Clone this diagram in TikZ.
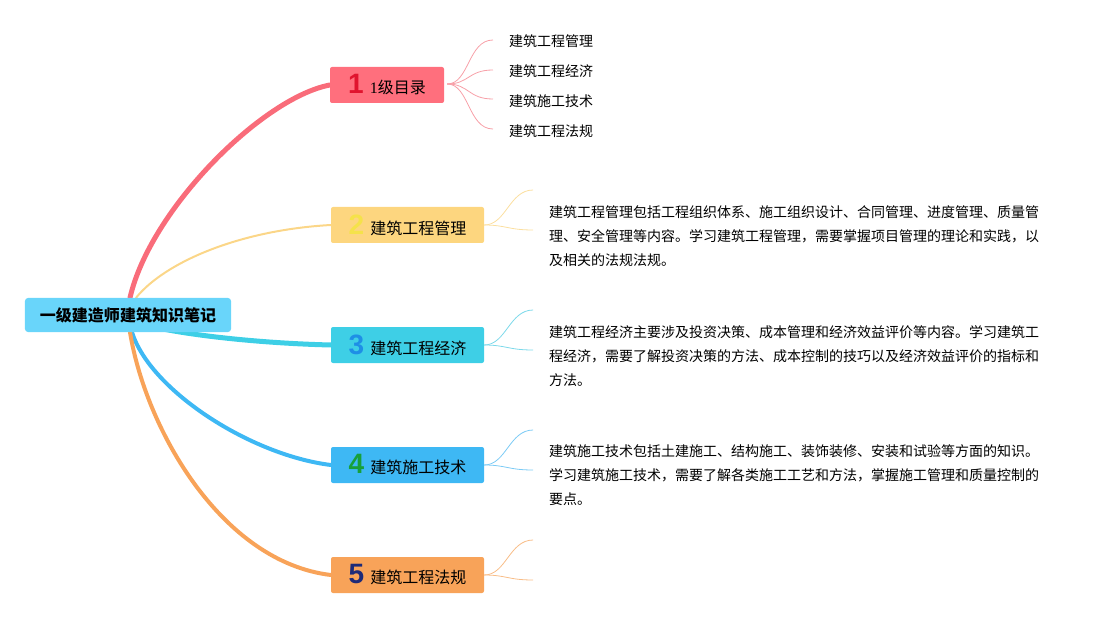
\documentclass[tikz,border=0pt]{standalone}
\usepackage{fontspec}
\setmainfont{Noto Sans CJK SC}
\newfontfamily\numfont{Liberation Sans}
\newfontfamily\serdigit{Liberation Serif}
\usetikzlibrary{calc,backgrounds}
\definecolor{rootc}{HTML}{69D5FA}
\definecolor{bxa}{HTML}{FF6F7D}
\definecolor{bxb}{HTML}{FDD67F}
\definecolor{bxc}{HTML}{3ECFE6}
\definecolor{bxd}{HTML}{3EB8F4}
\definecolor{bxe}{HTML}{F8A359}
\definecolor{dga}{HTML}{E0142E}
\definecolor{dgb}{HTML}{F5E24A}
\definecolor{dgc}{HTML}{1E8FE6}
\definecolor{dgd}{HTML}{17A03A}
\definecolor{dge}{HTML}{1E2A78}
\definecolor{lna}{HTML}{F96C7A}
\definecolor{lnb}{HTML}{FBD688}
\definecolor{lnc}{HTML}{3ECFE6}
\definecolor{lnd}{HTML}{3EB8F4}
\definecolor{lne}{HTML}{F8A359}
\definecolor{sla}{HTML}{F7A0A8}
\definecolor{slb}{HTML}{FBDFA0}
\definecolor{slc}{HTML}{7DD9EA}
\definecolor{sld}{HTML}{7CCBF5}
\definecolor{sle}{HTML}{F8BD88}
\tikzset{
  rootbox/.style={fill=rootc, rounded corners=3bp, minimum width=206bp, minimum height=34bp, inner sep=0pt, font=\fontsize{16bp}{18bp}\selectfont\bfseries},
  topic/.style={rounded corners=2bp, minimum height=36bp, inner sep=0pt, font=\fontsize{16bp}{18bp}\selectfont},
  sublabel/.style={anchor=west, inner sep=0pt, font=\fontsize{14bp}{16bp}\selectfont},
  desc/.style={anchor=north west, inner sep=0pt, align=left, font=\fontsize{14bp}{24bp}\selectfont},
  mainline/.style={line cap=round},
  subline/.style={line width=0.8bp},
}
\newcommand\brnum[2]{{\color{#1}\numfont\bfseries\fontsize{28bp}{28bp}\selectfont #2}\hspace{6bp}}
\begin{document}
\begin{tikzpicture}[x=1bp,y=-1bp]
\useasboundingbox (0,0) rectangle (1109,618);
% root
\node[rootbox] (root) at (128,315) {一级建造师建筑知识笔记};
% branches
\node[topic, fill=bxa, minimum width=114bp] (b1) at (387,85) {\brnum{dga}{1}{\serdigit 1}级目录};
\node[topic, fill=bxb, minimum width=153bp] (b2) at (407.5,225) {\brnum{dgb}{2}建筑工程管理};
\node[topic, fill=bxc, minimum width=153bp] (b3) at (407.5,345) {\brnum{dgc}{3}建筑工程经济};
\node[topic, fill=bxd, minimum width=153bp] (b4) at (407.5,465) {\brnum{dgd}{4}建筑施工技术};
\node[topic, fill=bxe, minimum width=153bp] (b5) at (407.5,575) {\brnum{dge}{5}建筑工程法规};
% sub labels of branch 1
\node[sublabel] (s1) at (509,41) {建筑工程管理};
\node[sublabel] (s2) at (509,71) {建筑工程经济};
\node[sublabel] (s3) at (509,101) {建筑施工技术};
\node[sublabel] (s4) at (509,131) {建筑工程法规};
% descriptions
\node[desc] (t2) at (549,205) {建筑工程管理包括工程组织体系、施工组织设计、合同管理、进度管理、质量管\\理、安全管理等内容。学习建筑工程管理，需要掌握项目管理的理论和实践，以\\及相关的法规法规。};
\node[desc] (t3) at (549,325) {建筑工程经济主要涉及投资决策、成本管理和经济效益评价等内容。学习建筑工\\程经济，需要了解投资决策的方法、成本控制的技巧以及经济效益评价的指标和\\方法。};
\node[desc] (t4) at (549,444) {建筑施工技术包括土建施工、结构施工、装饰装修、安装和试验等方面的知识。\\学习建筑施工技术，需要了解各类施工工艺和方法，掌握施工管理和质量控制的\\要点。};
% free ends
\coordinate (e11) at (493,40);
\coordinate (e12) at (493,70);
\coordinate (e13) at (493,99);
\coordinate (e14) at (493,129);
\coordinate (e2l) at (533,230);
\coordinate (e3l) at (533,350);
\coordinate (e4l) at (533,470);
\coordinate (e5l) at (533,580);
\begin{scope}[on background layer]
  % main connectors
  \draw[mainline, lna, line width=5bp] ($(root.north)+(2,0)$) .. controls (150,210) and (262,98) .. (b1.west);
  \draw[mainline, lnb, line width=2bp] ($(root.north)+(8,0)$) .. controls (165,262) and (240,230) .. (b2.west);
  \draw[mainline, lnc, line width=5bp] ($(root.center)+(10,8)$) .. controls (170,333) and (250,343) .. (b3.west);
  \draw[mainline, lnd, line width=4bp] ($(root.south)+(4,0)$) .. controls (150,390) and (250,455) .. (b4.west);
  \draw[mainline, lne, line width=4bp] ($(root.south)+(2,0)$) .. controls (146,430) and (222,562) .. (b5.west);
  % branch 1 fan
  \foreach \e in {e11,e12,e13,e14}
    \draw[subline, sla] ($(b1.east)+(3,-1)$) .. controls ($(b1.east)+(25,-1)$) and ($(\e)+(-25,0)$) .. (\e);
  % description connectors (upper)
  \foreach \b/\c in {b2/slb,b3/slc,b4/sld,b5/sle}{
    \draw[subline, \c] (\b.east) .. controls ($(\b.east)+(22,0)$) and ($(\b.east)+(25,-35)$) .. ($(\b.east)+(49,-35)$);
  }
  % description connectors (lower)
  \draw[subline, slb] (b2.east) .. controls ($(b2.east)+(22,0)$) and ($(e2l)+(-25,0)$) .. (e2l);
  \draw[subline, slc] (b3.east) .. controls ($(b3.east)+(22,0)$) and ($(e3l)+(-25,0)$) .. (e3l);
  \draw[subline, sld] (b4.east) .. controls ($(b4.east)+(22,0)$) and ($(e4l)+(-25,0)$) .. (e4l);
  \draw[subline, sle] (b5.east) .. controls ($(b5.east)+(22,0)$) and ($(e5l)+(-25,0)$) .. (e5l);
\end{scope}
\end{tikzpicture}
\end{document}
